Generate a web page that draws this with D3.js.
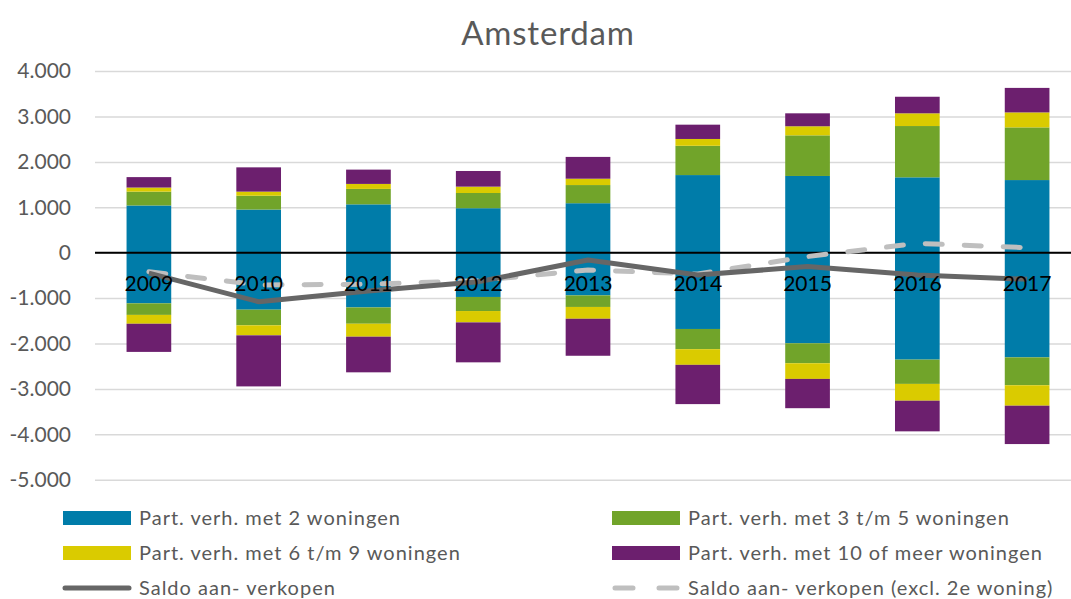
<!DOCTYPE html>
<html>
<head>
<meta charset="utf-8">
<script src="https://cdn.jsdelivr.net/npm/d3@7"></script>
<style>
  body { margin: 0; background: #fff; }
  svg { display: block; font-family: Lato, "Noto Sans", sans-serif; }
</style>
</head>
<body>
<script>
// data
const years = ["2009", "2010", "2011", "2012", "2013", "2014", "2015", "2016", "2017"];

// positive side (aankopen)
const buy2   = [1040, 950, 1065, 980, 1090, 1710, 1690, 1660, 1600];
const buy3_5 = [305, 305, 340, 335, 400, 645, 895, 1130, 1160];
const buy6_9 = [90, 90, 110, 140, 140, 150, 200, 280, 330];
const buy10  = [230, 535, 315, 345, 480, 315, 285, 365, 540];

// negative side (verkopen)
const sell2   = [-1115, -1255, -1205, -975, -940, -1680, -1995, -2355, -2305];
const sell3_5 = [-255, -345, -360, -310, -255, -445, -440, -535, -615];
const sell6_9 = [-195, -220, -285, -250, -260, -345, -345, -370, -450];
const sell10  = [-620, -1125, -785, -880, -815, -865, -645, -675, -845];

const saldo     = [-450, -1080, -845, -640, -160, -490, -305, -490, -585];
const saldoExcl = [-420, -710, -695, -615, -380, -470, -85, 205, 110];

const yTicks = [4000, 3000, 2000, 1000, 0, -1000, -2000, -3000, -4000, -5000];

const seriesNames = [
  "Part. verh. met 2 woningen",
  "Part. verh. met 3 t/m 5 woningen",
  "Part. verh. met 6 t/m 9 woningen",
  "Part. verh. met 10 of meer woningen"
];
const colors = ["#007ca9", "#71a42a", "#dacb00", "#6c1f6e"];

const width = 1071, height = 599;
const svg = d3.select("body").append("svg")
  .attr("width", width).attr("height", height);

// build rows for the stack: each series has a positive and a negative part
const keys = ["b0", "b1", "b2", "b3", "s0", "s1", "s2", "s3"];
const rows = years.map((yr, i) => ({
  year: yr,
  b0: buy2[i], b1: buy3_5[i], b2: buy6_9[i], b3: buy10[i],
  s0: sell2[i], s1: sell3_5[i], s2: sell6_9[i], s3: sell10[i]
}));
const stacked = d3.stack().keys(keys).offset(d3.stackOffsetDiverging)(rows);

const x = d3.scaleBand().domain(years)
  .range([94, 1082]).paddingInner(0.593).paddingOuter(0.2965);
const y = d3.scaleLinear().domain([-5000, 4000]).range([479.7, 71.1]);

const nl = d3.formatLocale({ decimal: ",", thousands: ".", grouping: [3], currency: ["€", ""], minus: "-" });
const fmt = nl.format(",.0f");

// title
svg.append("text")
  .attr("x", 548).attr("y", 45)
  .attr("text-anchor", "middle")
  .attr("font-size", 33)
  .attr("letter-spacing", 0.8)
  .attr("fill", "#595959")
  .text("Amsterdam");

// gridlines + y labels
const yAxis = svg.append("g").attr("transform", "translate(95,0)")
  .call(d3.axisLeft(y).tickValues(yTicks).tickFormat(fmt).tickSize(-(width - 95)).tickPadding(24));
yAxis.select(".domain").remove();
yAxis.selectAll(".tick line").attr("stroke", "#d9d9d9").attr("stroke-width", 1.5);
yAxis.selectAll(".tick text")
  .attr("fill", "#595959").attr("font-size", 21)
  .attr("font-family", "Lato, sans-serif");

// bars
svg.append("g").selectAll("g").data(stacked).join("g")
  .attr("fill", d => colors[+d.key[1]])
  .selectAll("rect").data(d => d).join("rect")
  .attr("x", d => x(d.data.year))
  .attr("width", x.bandwidth())
  .attr("y", d => y(Math.max(d[0], d[1])))
  .attr("height", d => Math.abs(y(d[0]) - y(d[1])));

// zero line
svg.append("line")
  .attr("x1", 95).attr("x2", width)
  .attr("y1", y(0)).attr("y2", y(0))
  .attr("stroke", "#000").attr("stroke-width", 2);

// saldo lines
const cx = yr => x(yr) + x.bandwidth() / 2;
const line = d3.line().x((d, i) => cx(years[i])).y(d => y(d));

svg.append("path").datum(saldoExcl)
  .attr("d", line).attr("fill", "none")
  .attr("stroke", "#bfbfbf").attr("stroke-width", 5)
  .attr("stroke-linecap", "round").attr("stroke-dasharray", "17,22");

svg.append("path").datum(saldo)
  .attr("d", line).attr("fill", "none")
  .attr("stroke", "#666666").attr("stroke-width", 5)
  .attr("stroke-linejoin", "round");

// category labels just under the zero line
svg.append("g").selectAll("text").data(years).join("text")
  .attr("x", d => cx(d))
  .attr("y", 291)
  .attr("text-anchor", "middle")
  .attr("font-size", 21)
  .attr("fill", "#000")
  .text(d => d);

// legend
const legendItems = [
  { name: seriesNames[0], type: "bar", color: colors[0], col: 0, row: 0 },
  { name: seriesNames[1], type: "bar", color: colors[1], col: 1, row: 0 },
  { name: seriesNames[2], type: "bar", color: colors[2], col: 0, row: 1 },
  { name: seriesNames[3], type: "bar", color: colors[3], col: 1, row: 1 },
  { name: "Saldo aan- verkopen", type: "solid", color: "#666666", col: 0, row: 2 },
  { name: "Saldo aan- verkopen (excl. 2e woning)", type: "dash", color: "#bfbfbf", col: 1, row: 2 }
];
const colX = [63, 612];
const rowY = [518, 553, 588];

const lg = svg.append("g").selectAll("g").data(legendItems).join("g")
  .attr("transform", d => `translate(${colX[d.col]},${rowY[d.row]})`);

lg.filter(d => d.type === "bar").append("rect")
  .attr("x", 0).attr("y", -7).attr("width", 68).attr("height", 14)
  .attr("fill", d => d.color);

lg.filter(d => d.type === "solid").append("line")
  .attr("x1", 2).attr("x2", 66).attr("y1", 0).attr("y2", 0)
  .attr("stroke", d => d.color).attr("stroke-width", 5).attr("stroke-linecap", "round");

lg.filter(d => d.type === "dash").append("line")
  .attr("x1", 3).attr("x2", 66).attr("y1", 0).attr("y2", 0)
  .attr("stroke", d => d.color).attr("stroke-width", 5)
  .attr("stroke-linecap", "round").attr("stroke-dasharray", "18,26");

lg.append("text")
  .attr("x", 76).attr("y", 0).attr("dy", "0.35em")
  .attr("font-size", 20)
  .attr("letter-spacing", 1)
  .attr("fill", "#595959")
  .text(d => d.name);
</script>
</body>
</html>
